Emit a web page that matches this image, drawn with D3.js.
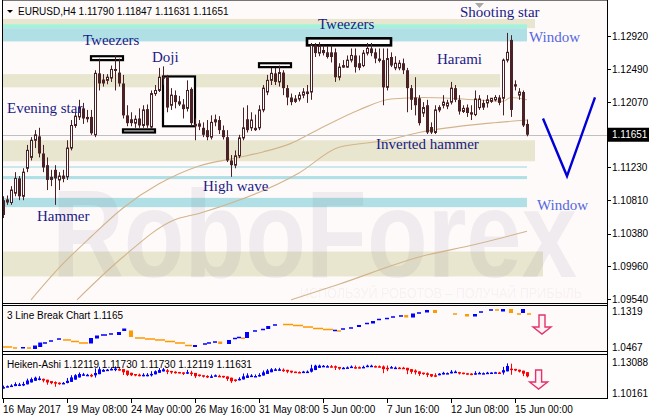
<!DOCTYPE html>
<html><head><meta charset="utf-8">
<script src="https://cdn.jsdelivr.net/npm/d3@7"></script>
<style>body{margin:0;background:#fff;} svg{display:block;}</style>
</head><body><svg id="c" width="649" height="419"></svg>
<script>
// ---------- DATA ----------
const opens = [1.1081,1.1082,1.1078,1.1090,1.1109,1.1086,1.1122,1.1136,1.1158,1.1163,
1.1141,1.1126,1.1111,1.1120,1.1107,1.1109,1.1111,1.1148,1.1177,1.1188,
1.1199,1.1188,1.1188,1.1165,1.1244,1.1236,1.1235,1.1238,1.1248,1.1245,
1.1231,1.1190,1.1185,1.1180,1.1186,1.1177,1.1198,1.1175,1.1218,1.1222,
1.1239,1.1239,1.1203,1.1216,1.1208,1.1204,1.1199,1.1224,1.1179,1.1176,
1.1174,1.1171,1.1162,1.1185,1.1184,1.1171,1.1162,1.1132,1.1126,1.1138,
1.1161,1.1185,1.1174,1.1174,1.1174,1.1197,1.1220,1.1235,1.1244,1.1233,
1.1245,1.1225,1.1213,1.1208,1.1211,1.1216,1.1218,1.1220,1.1280,1.1270,
1.1274,1.1271,1.1271,1.1271,1.1239,1.1252,1.1252,1.1261,1.1267,1.1257,
1.1254,1.1270,1.1276,1.1271,1.1263,1.1261,1.1226,1.1265,1.1251,1.1251,
1.1257,1.1248,1.1225,1.1213,1.1212,1.1193,1.1203,1.1175,1.1168,1.1197,
1.1203,1.1202,1.1207,1.1225,1.1210,1.1195,1.1200,1.1194,1.1191,1.1200,
1.1206,1.1206,1.1208,1.1210,1.1213,1.1212,1.1261,1.1287,1.1230,1.1216,
1.1220,1.11790];
const highs = [1.1086,1.1087,1.1099,1.1117,1.1112,1.1122,1.1152,1.1162,1.1171,1.1174,
1.1152,1.1136,1.1120,1.1126,1.1117,1.1120,1.1158,1.1184,1.1194,1.1210,
1.1206,1.1197,1.1197,1.1248,1.1263,1.1243,1.1243,1.1254,1.1267,1.1263,
1.1242,1.1203,1.1194,1.1190,1.1199,1.1203,1.1204,1.1222,1.1229,1.1251,
1.1253,1.1242,1.1225,1.1222,1.1215,1.1211,1.1235,1.1226,1.1186,1.1184,
1.1181,1.1184,1.1190,1.1191,1.1189,1.1177,1.1171,1.1139,1.1145,1.1165,
1.1200,1.1203,1.1194,1.1191,1.1203,1.1229,1.1242,1.1251,1.1251,1.1254,
1.1248,1.1229,1.1218,1.1216,1.1220,1.1225,1.1229,1.1283,1.1283,1.1284,
1.1280,1.1279,1.1280,1.1276,1.1257,1.1261,1.1267,1.1276,1.1276,1.1267,
1.1274,1.1283,1.1283,1.1276,1.1276,1.1276,1.1276,1.1271,1.1266,1.1261,
1.1263,1.1251,1.1229,1.1239,1.1216,1.1207,1.1210,1.1181,1.1203,1.1203,
1.1216,1.1210,1.1233,1.1229,1.1216,1.1203,1.1204,1.1203,1.1222,1.1216,
1.1210,1.1216,1.1212,1.1216,1.1216,1.1263,1.1296,1.1293,1.1235,1.1225,
1.1222,1.11847];
const lows = [1.1058,1.1075,1.1075,1.1086,1.1081,1.1081,1.1117,1.1132,1.1148,1.1136,
1.1117,1.1094,1.1099,1.1075,1.1094,1.1104,1.1107,1.1145,1.1174,1.1184,
1.1179,1.1181,1.1165,1.1162,1.1222,1.1227,1.1230,1.1233,1.1222,1.1227,
1.1186,1.1176,1.1176,1.1174,1.1174,1.1174,1.1174,1.1172,1.1215,1.1220,
1.1229,1.1194,1.1197,1.1199,1.1202,1.1186,1.1195,1.1177,1.1158,1.1171,
1.1162,1.1158,1.1159,1.1176,1.1166,1.1159,1.1130,1.1111,1.1122,1.1135,
1.1158,1.1168,1.1170,1.1170,1.1171,1.1194,1.1216,1.1229,1.1229,1.1227,
1.1216,1.1203,1.1203,1.1206,1.1208,1.1212,1.1206,1.1210,1.1265,1.1266,
1.1267,1.1263,1.1258,1.1233,1.1235,1.1251,1.1251,1.1258,1.1245,1.1248,
1.1252,1.1267,1.1266,1.1257,1.1258,1.1203,1.1222,1.1252,1.1248,1.1248,
1.1243,1.1194,1.1197,1.1190,1.1177,1.1188,1.1166,1.1166,1.1166,1.1194,
1.1199,1.1198,1.1204,1.1207,1.1191,1.1193,1.1188,1.1184,1.1189,1.1197,
1.1197,1.1200,1.1206,1.1208,1.1203,1.1190,1.1258,1.1188,1.1222,1.1210,
1.1175,1.11631];
const closes = [1.1062,1.1078,1.1094,1.1109,1.1086,1.1117,1.1145,1.1158,1.1165,1.1141,
1.1123,1.1107,1.1107,1.1109,1.1112,1.1112,1.1148,1.1177,1.1189,1.1200,
1.1186,1.1185,1.1167,1.1244,1.1231,1.1231,1.1239,1.1249,1.1249,1.1231,
1.1190,1.1180,1.1180,1.1185,1.1177,1.1197,1.1177,1.1218,1.1222,1.1239,
1.1238,1.1200,1.1216,1.1207,1.1204,1.1198,1.1222,1.1180,1.1176,1.1179,
1.1165,1.1162,1.1181,1.1181,1.1171,1.1162,1.1132,1.1126,1.1138,1.1161,
1.1174,1.1171,1.1184,1.1171,1.1197,1.1225,1.1235,1.1244,1.1233,1.1245,
1.1225,1.1213,1.1207,1.1211,1.1216,1.1220,1.1220,1.1280,1.1270,1.1279,
1.1270,1.1265,1.1265,1.1239,1.1252,1.1254,1.1261,1.1267,1.1252,1.1251,
1.1270,1.1276,1.1270,1.1263,1.1260,1.1226,1.1263,1.1254,1.1257,1.1257,
1.1248,1.1225,1.1210,1.1203,1.1180,1.1200,1.1168,1.1168,1.1197,1.1200,
1.1207,1.1206,1.1225,1.1210,1.1195,1.1199,1.1193,1.1191,1.1211,1.1211,
1.1200,1.1210,1.1212,1.1213,1.1206,1.1261,1.1271,1.1197,1.1227,1.1220,
1.1177,1.11651];

// moving averages (bar index, value)
const maFastIdx = [7,14,22,30,39,49,59,65,72,77,89,97,105,115,125,127,131];
const maFastVal = [1.0953,1.0994,1.1034,1.1071,1.1102,1.1125,1.1136,1.1143,1.1154,1.1167,1.1197,1.1211,1.1213,1.1211,1.1208,1.1213,1.1210];
const maMidIdx = [18.5,30,42.5,49,74,84,96,104,121.75,131];
const maMidVal = [1.0953,1.1008,1.1055,1.1064,1.1116,1.1149,1.1158,1.1168,1.1180,1.1184];
const maSlowIdx = [72,84,104,118,131];
const maSlowVal = [1.0953,1.0973,1.1008,1.1024,1.1041];

// horizontal zones
const bandStart = [-0.25,-0.25,-0.25,-0.25,-0.25,-0.25,-0.25,-0.25,-0.25];
const bandEnd   = [133,131,131,124.25,133,131,131,131,135];
const bandTop   = [1.1314,1.1307,1.1302,1.1243,1.1158,1.11245,1.1112,1.1084,1.1015];
const bandBot   = [1.1302,1.1302,1.1285,1.1226,1.1131,1.11228,1.1108,1.1072,1.0983];
const bandKind  = ["beige","aqua","blue","beige","beige","blue","blue","blue","beige"];

// pattern boxes
const boxStart = [22,30,40,64,76];
const boxEnd   = [30,38,48,72,97];
const boxTop   = [1.1266,1.1172,1.1240,1.1257,1.1289];
const boxBot   = [1.1261,1.1168,1.1176,1.1252,1.1280];

// annotations
const annText  = ["Evening star","Tweezers","Doji","Tweezers","Shooting star","Window","Harami","Inverted hammer","High wave","Hammer","Window"];
const annIdx   = [1,20,37.25,78.75,114.25,131.5,108.5,93.25,50,8.5,133.5];
const annPrice = [1.1193,1.1281,1.1258,1.1301,1.1316,1.1284,1.1256,1.1147,1.1093,1.1054,1.1069];
const annKind  = ["p","p","p","p","p","w","p","p","p","p","w"];

// forecast V
const vIdx = [135,141,148];
const vVal = [1.1186,1.1112,1.1213];

// price axis
const priceTicks = [1.12920,1.12490,1.12070,1.11230,1.10810,1.10380,1.09960,1.09540];
const lbTicks = [1.1319,1.0467];
const haTicks = [1.13088,1.10161];

// time axis
const timeLabels = ["16 May 2017","19 May 08:00","24 May 00:00","26 May 16:00","31 May 08:00","5 Jun 00:00","7 Jun 16:00","12 Jun 08:00","15 Jun 00:00"];
const timeIdx = [0,16,32,48,64,80,96,112,128];

// 3 line break blocks
const lbStart = [0,2.5,4.5,6,7.5,8.8,10,11.5,13.5,15,17,19,21.5,23,24.5,26.5,28.5,29.8,31.5,33,35.5,38,40.5,43,45.5,47.5,50,51,52.5,53.8,56,57.5,58.5,59.5,60.5,62.5,64.5,65.8,67.5,70,72.5,75,77.5,80,82.5,83.5,84.5,86.5,88.5,90.5,92,93.5,95.5,97,99,100.3,102,103.5,105.5,107.5,112.5,115.5,117.5,119,121.5,123,124.5,126.5,128.5,129.5,131];
const lbEnd   = [2.3,3.5,5.5,7,8.5,9.8,11,12.5,14.5,17,19,21.3,22.5,24,26,27.5,29.5,30.8,32.5,35.5,38,40.5,43,45.5,47.3,48.5,51,52,53.5,54.8,57,58.5,59.5,60.5,61.5,63.5,65.5,66.8,68.5,72.5,75,77.5,80,82.5,83.5,84.5,85.5,87.5,89.5,91.5,93,94.5,96.5,98,100,101.3,103,104.5,106.5,108.5,113.5,116.5,118.5,120,122.5,124,125.5,127.5,129.5,130.5,132];
const lbHigh  = [1.0467,1.0443,1.0467,1.0443,1.0502,1.0573,1.0562,1.0609,1.0656,1.0633,1.0597,1.0562,1.0680,1.0739,1.0751,1.0775,1.0822,1.0905,1.0858,1.0680,1.0656,1.0633,1.0597,1.0562,1.0502,1.0514,1.0538,1.0562,1.0585,1.0597,1.0633,1.0668,1.0692,1.0692,1.0822,1.0846,1.0881,1.0964,1.0988,1.0999,1.0976,1.0940,1.0905,1.0881,1.0858,1.0846,1.0893,1.0917,1.0988,1.1023,1.1082,1.1118,1.1141,1.1177,1.1201,1.1224,1.1260,1.1272,1.1343,1.1343,1.1248,1.1248,1.1248,1.1295,1.1343,1.1343,1.1366,1.1366,1.1248,1.1366,1.1248];
const lbLow   = [1.0467,1.0443,1.0432,1.0443,1.0420,1.0467,1.0562,1.0609,1.0656,1.0633,1.0597,1.0562,1.0550,1.0668,1.0751,1.0775,1.0751,1.0846,1.0704,1.0680,1.0656,1.0633,1.0597,1.0562,1.0502,1.0467,1.0538,1.0562,1.0585,1.0538,1.0538,1.0668,1.0692,1.0656,1.0680,1.0846,1.0881,1.0893,1.0988,1.0999,1.0976,1.0940,1.0905,1.0881,1.0858,1.0846,1.0893,1.0917,1.0940,1.1023,1.1023,1.1118,1.1141,1.1177,1.1201,1.1165,1.1165,1.1272,1.1284,1.1272,1.1248,1.1189,1.1189,1.1295,1.1343,1.1343,1.1307,1.1272,1.1248,1.1272,1.1248];
const lbColor = ["o","o","b","o","b","b","b","b","b","o","o","o","b","b","b","b","b","b","o","o","o","o","o","o","o","b","b","b","b","o","b","b","b","o","b","b","b","b","b","o","o","o","o","o","b","o","b","b","b","b","b","b","b","b","b","o","b","b","b","o","o","o","b","b","b","o","b","o","o","b","o"];

// signal arrows (bar index, value at arrow top in each sub panel)
const sigIdx = [134.75,133.9];
const sigVal = [1.1224,1.1233];

// ---------- DRAW ----------
const svg = d3.select("#c");
const n = closes.length;
const FONT = "'Liberation Sans', Arial, sans-serif";
const SERIF = "'Liberation Serif', 'Times New Roman', serif";
const BG = "#fffafa";
const CANDLE = "#4a2226";

const x = d3.scaleLinear().domain([0, n - 1]).range([3, 527]);
const yM = d3.scaleLinear().domain([1.09540, 1.12920]).range([299, 36]);
const yL = d3.scaleLinear().domain([1.0467, 1.1319]).range([347, 311]);
const yH = d3.scaleLinear().domain([1.10161, 1.13088]).range([393, 362]);

svg.append("rect").attr("width", 649).attr("height", 419).attr("fill", "#fff");
svg.append("rect").attr("x", 2).attr("y", 1).attr("width", 605).attr("height", 302).attr("fill", BG);
svg.append("rect").attr("x", 2).attr("y", 306).attr("width", 605).attr("height", 45).attr("fill", BG);
svg.append("rect").attr("x", 2).attr("y", 355).attr("width", 605).attr("height", 43).attr("fill", BG);

const defs = svg.append("defs");
defs.append("clipPath").attr("id", "mc").append("rect").attr("x", 3).attr("y", 1).attr("width", 604).attr("height", 302);
defs.append("clipPath").attr("id", "hc").append("rect").attr("x", 3).attr("y", 355).attr("width", 604).attr("height", 43);
const gm = svg.append("g").attr("clip-path", "url(#mc)");

// bands
const bandColors = { beige: "#e9e6cf", aqua: "#a3f2dc", blue: "#b0e0e6" };
bandTop.forEach((t, i) => {
  gm.append("rect")
    .attr("x", x(bandStart[i])).attr("width", x(bandEnd[i]) - x(bandStart[i]))
    .attr("y", yM(t)).attr("height", Math.max(1, yM(bandBot[i]) - yM(t)))
    .attr("fill", bandColors[bandKind[i]]);
});

// watermark
gm.append("text").attr("x", 52).attr("y", 277).attr("font-family", FONT).attr("font-size", 124).attr("font-weight", "bold")
  .attr("textLength", 525).attr("lengthAdjust", "spacingAndGlyphs")
  .attr("fill", "#6e6a8a").attr("fill-opacity", 0.10).text("RoboForex");
gm.append("text").attr("x", 300).attr("y", 298).attr("font-family", FONT).attr("font-size", 14)
  .attr("textLength", 282).attr("lengthAdjust", "spacingAndGlyphs")
  .attr("fill", "#6e6a8a").attr("fill-opacity", 0.08).text("ИСПОЛЬЗУЙ РОБОТОВ – ПОЛУЧАЙ ПРИБЫЛЬ");

// boxes
boxStart.forEach((s, i) => {
  gm.append("rect").attr("x", x(s)).attr("width", x(boxEnd[i]) - x(s))
    .attr("y", yM(boxTop[i])).attr("height", yM(boxBot[i]) - yM(boxTop[i]))
    .attr("fill", "#ffffff").attr("stroke", "#000").attr("stroke-width", i === 4 ? 2.6 : 2.2);
});

// moving averages
const maLine = (idx, val) => d3.line().x((d, i) => x(idx[i])).y((d, i) => yM(val[i])).curve(d3.curveMonotoneX)(val);
[[maFastIdx, maFastVal], [maMidIdx, maMidVal], [maSlowIdx, maSlowVal]].forEach(([a, b]) => {
  gm.append("path").attr("d", maLine(a, b)).attr("fill", "none").attr("stroke", "#d2b48c").attr("stroke-width", 1.1);
});

// current price line
gm.append("line").attr("x1", 2).attr("x2", 607).attr("y1", Math.round(yM(closes[n - 1])) + 0.5).attr("y2", Math.round(yM(closes[n - 1])) + 0.5)
  .attr("stroke", "#c0c0c0").attr("stroke-width", 1);

// candles
for (let i = 0; i < n; i++) {
  const cx = Math.round(x(i));
  gm.append("line").attr("x1", cx + 0.5).attr("x2", cx + 0.5).attr("y1", yM(highs[i])).attr("y2", yM(lows[i]))
    .attr("stroke", CANDLE).attr("stroke-width", 1);
  const top = yM(Math.max(opens[i], closes[i])), bot = yM(Math.min(opens[i], closes[i]));
  if (closes[i] >= opens[i]) {
    gm.append("rect").attr("x", cx - 0.5).attr("width", 2).attr("y", top).attr("height", Math.max(1, bot - top))
      .attr("fill", "#ffffff").attr("stroke", CANDLE).attr("stroke-width", 1);
  } else {
    gm.append("rect").attr("x", cx - 1).attr("width", 3).attr("y", top).attr("height", Math.max(1.5, bot - top))
      .attr("fill", CANDLE);
  }
}

// annotations
annText.forEach((t, i) => {
  gm.append("text").attr("x", x(annIdx[i])).attr("y", yM(annPrice[i]))
    .attr("font-family", SERIF).attr("font-size", 15)
    .attr("fill", annKind[i] === "w" ? "#5468e0" : "#1a1a86").text(t);
});

// forecast V
gm.append("path").attr("d", d3.line().x((d, i) => x(vIdx[i])).y(d => yM(d))(vVal))
  .attr("fill", "none").attr("stroke", "#0000d8").attr("stroke-width", 2.4);

// small gray marker at top
gm.append("path").attr("d", `M${x(118)},3 L${x(120.25)},3 L${x(119.12)},8 Z`).attr("fill", "#a8a8a8");

// header
svg.append("path").attr("d", "M7,10 L13,10 L10,13 Z").attr("fill", "#000");
svg.append("text").attr("x", 18).attr("y", 14.5).attr("font-family", FONT).attr("font-size", 10).attr("fill", "#000")
  .text(`EURUSD,H4 ${opens[n-1].toFixed(5)} ${highs[n-1].toFixed(5)} ${lows[n-1].toFixed(5)} ${closes[n-1].toFixed(5)}`);

// ---------- 3 line break ----------
lbStart.forEach((s, i) => {
  const top = yL(lbHigh[i]), bot = yL(lbLow[i]);
  svg.append("rect").attr("x", x(s)).attr("width", Math.max(2, x(lbEnd[i]) - x(s)))
    .attr("y", top - (bot - top < 1 ? 0.75 : 0)).attr("height", Math.max(1.5, bot - top))
    .attr("fill", lbColor[i] === "b" ? "#0000ff" : "#ff9900");
});
svg.append("text").attr("x", 7).attr("y", 318.5).attr("font-family", FONT).attr("font-size", 10).attr("fill", "#000")
  .text("3 Line Break Chart 1.1165");

// ---------- Heiken Ashi (derived from OHLC) ----------
const gh = svg.append("g").attr("clip-path", "url(#hc)");
let haO = (opens[0] + closes[0]) / 2;
for (let i = 0; i < n; i++) {
  const haC = (opens[i] + highs[i] + lows[i] + closes[i]) / 4;
  const o = haO;
  const hi = Math.max(highs[i], o, haC), lo = Math.min(lows[i], o, haC);
  const col = haC >= o ? "#0000ff" : "#ff0000";
  const cx = Math.round(x(i));
  gh.append("line").attr("x1", cx + 0.5).attr("x2", cx + 0.5).attr("y1", yH(hi)).attr("y2", yH(lo))
    .attr("stroke", col).attr("stroke-width", 1);
  const t = yH(Math.max(o, haC)), b = yH(Math.min(o, haC));
  gh.append("rect").attr("x", cx - 1).attr("width", 3).attr("y", t).attr("height", Math.max(1.5, b - t)).attr("fill", col);
  haO = (o + haC) / 2;
}
svg.append("text").attr("x", 7).attr("y", 368).attr("font-family", FONT).attr("font-size", 10).attr("fill", "#000")
  .text("Heiken-Ashi 1.12119 1.11730 1.11730 1.12119 1.11631");

// signal arrows
function downArrow(cx, top) {
  return `M${cx-3},${top} L${cx+3},${top} L${cx+3},${top+12} L${cx+9},${top+12} L${cx},${top+19} L${cx-9},${top+12} L${cx-3},${top+12} Z`;
}
svg.append("path").attr("d", downArrow(x(sigIdx[0]), yL(sigVal[0]))).attr("fill", "#fff3f6").attr("stroke", "#e2336c").attr("stroke-width", 1.4);
svg.append("path").attr("d", downArrow(x(sigIdx[1]), yH(sigVal[1]))).attr("fill", "#fff3f6").attr("stroke", "#e2336c").attr("stroke-width", 1.4);

// ---------- frames ----------
const fr = svg.append("g").attr("stroke", "#000").attr("stroke-width", 1);
fr.append("line").attr("x1", 2).attr("x2", 608).attr("y1", 0.5).attr("y2", 0.5).attr("stroke", "#777");
[303.5, 305.5, 351.5, 354.5, 398.5].forEach(yy => fr.append("line").attr("x1", 2).attr("x2", 608).attr("y1", yy).attr("y2", yy));
fr.append("line").attr("x1", 2.5).attr("x2", 2.5).attr("y1", 0).attr("y2", 399);
fr.append("line").attr("x1", 607.5).attr("x2", 607.5).attr("y1", 0).attr("y2", 399);

// right axis labels
const axisText = (v, yy) => svg.append("text").attr("x", 612).attr("y", yy + 3.5).attr("font-family", FONT).attr("font-size", 10).attr("fill", "#000").text(v);
priceTicks.forEach(p => axisText(p.toFixed(5), yM(p)));
lbTicks.forEach(p => axisText(p.toFixed(4), yL(p)));
haTicks.forEach(p => axisText(p.toFixed(5), yH(p)));
priceTicks.forEach(p => svg.append("line").attr("x1", 607).attr("x2", 611).attr("y1", Math.round(yM(p)) + 0.5).attr("y2", Math.round(yM(p)) + 0.5).attr("stroke", "#000"));

// current price box
const cy = yM(closes[n - 1]);
svg.append("rect").attr("x", 608).attr("y", cy - 7).attr("width", 41).attr("height", 14).attr("fill", "#000");
svg.append("text").attr("x", 612).attr("y", cy + 3.5).attr("font-family", FONT).attr("font-size", 10).attr("fill", "#fff").text(closes[n - 1].toFixed(5));

// time axis
timeLabels.forEach((t, i) => {
  const tx = Math.round(x(timeIdx[i])) + 0.5;
  svg.append("line").attr("x1", tx).attr("x2", tx).attr("y1", 398).attr("y2", 403).attr("stroke", "#000");
  svg.append("text").attr("x", tx - 0.5).attr("y", 412.5).attr("font-family", FONT).attr("font-size", 10).attr("fill", "#000").text(t);
});
</script>
</body></html>
